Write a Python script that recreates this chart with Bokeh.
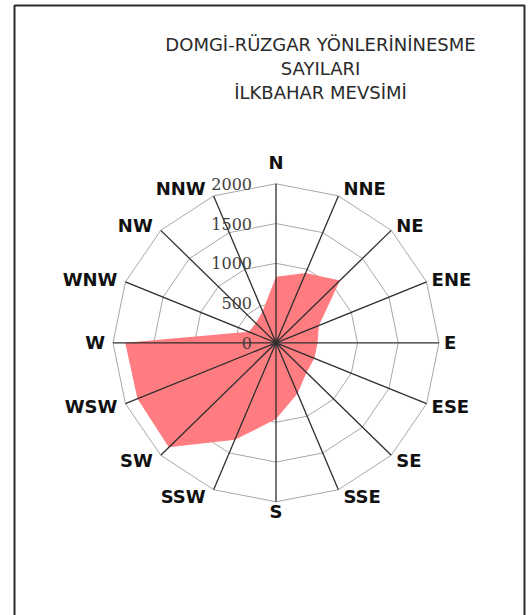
import numpy as np
from bokeh.plotting import figure
from bokeh.models import Range1d, ColumnDataSource
from bokeh.core.properties import value
from bokeh.embed import file_html
from bokeh.resources import INLINE

# ---------------- data ----------------
directions = ["N", "NNE", "NE", "ENE", "E", "ESE", "SE", "SSE",
              "S", "SSW", "SW", "WSW", "W", "WNW", "NW", "NNW"]
counts = [830, 950, 1110, 570, 510, 510, 530, 690,
          960, 1320, 1860, 1840, 1850, 360, 350, 430]
ring_values = [500, 1000, 1500, 2000]
tick_values = [0, 500, 1000, 1500, 2000]
tick_labels = ["0", "500", "1000", "1500", "2000"]
title_lines = ["DOMG\u0130-R\u00dcZGAR Y\u00d6NLER\u0130N\u0130NESME",
               "SAYILARI",
               "\u0130LKBAHAR MEVS\u0130M\u0130"]

# ---------------- layout ----------------
W, H = 532, 615
CX, CY = 275.5, 342.3        # chart centre, figure pixels from top-left
RX, RY = 163.0, 159.0        # pixel radius of the outer ring
RMAX = 2000
sx = RMAX / RX
sy = RMAX / RY


def px(xp, yp):
    return (xp - CX) * sx, (CY - yp) * sy


p = figure(width=W, height=H, output_backend="svg", toolbar_location=None,
           x_range=Range1d(-CX * sx, (W - CX) * sx),
           y_range=Range1d(-(H - CY) * sy, CY * sy),
           min_border=0)
p.axis.visible = False
p.grid.visible = False
p.outline_line_color = None
p.background_fill_color = "white"
p.border_fill_color = "white"

n = len(directions)
theta = np.pi / 2 - np.arange(n) * 2 * np.pi / n
cs, sn = np.cos(theta), np.sin(theta)

# rings (polygonal grid)
rings_xs = [list(np.append(r * cs, r * cs[0])) for r in ring_values]
rings_ys = [list(np.append(r * sn, r * sn[0])) for r in ring_values]
p.multi_line(xs=rings_xs, ys=rings_ys, line_color="#a8a8a8", line_width=1)

# filled series
vals = np.array(counts, dtype=float)
p.patch(x=vals * cs, y=vals * sn, fill_color="#FF7C80", line_color=None)

# spokes
spk = ColumnDataSource(dict(x0=np.zeros(n), y0=np.zeros(n), x1=RMAX * cs, y1=RMAX * sn))
p.segment(x0="x0", y0="y0", x1="x1", y1="y1", source=spk,
          line_color="#2e2e2e", line_width=1.3)

# direction labels
lx, ly, la = [], [], []
for c, s in zip(cs, sn):
    vx, vy = RMAX * c, RMAX * s
    if abs(c) < 0.01:
        lx.append(vx)
        ly.append(vy + (21 if s > 0 else -9.5) * sy)
        la.append("center")
    elif c > 0:
        lx.append(vx + 5 * sx)
        ly.append(vy + 7.5 * s * sy)
        la.append("left")
    else:
        lx.append(vx - 8 * sx)
        ly.append(vy + 7.5 * s * sy)
        la.append("right")
lab = ColumnDataSource(dict(x=lx, y=ly, t=directions, a=la))
p.text(x="x", y="y", text="t", text_align="a", source=lab,
       text_baseline="middle", text_font=value("DejaVu Sans"),
       text_font_style="bold", text_font_size="18px", text_color="#111111")

# value-axis tick labels
tk = ColumnDataSource(dict(x=[-24 * sx] * len(tick_values), y=tick_values, t=tick_labels))
p.text(x="x", y="y", text="t", source=tk, text_align="right", text_baseline="middle",
       text_font=value("DejaVu Serif"), text_font_size="16px", text_color="#404040")

# title
ty = [44, 68, 92]
tx = [px(320, yy)[0] for yy in ty]
tyd = [px(320, yy)[1] for yy in ty]
p.text(x=tx, y=tyd, text=title_lines, text_align="center", text_baseline="middle",
       text_font=value("DejaVu Sans"), text_font_size="18px", text_color="#2a2a2a")

# frame border of the chart area
bx0, by0 = px(14, 5)
bx1, by1 = px(524, H + 2)
p.multi_line(xs=[[bx0, bx0, bx1, bx1]], ys=[[by1, by0, by0, by1]],
             line_color="#2a2a2a", line_width=2)

open("out.html", "w").write(file_html(p, INLINE))
